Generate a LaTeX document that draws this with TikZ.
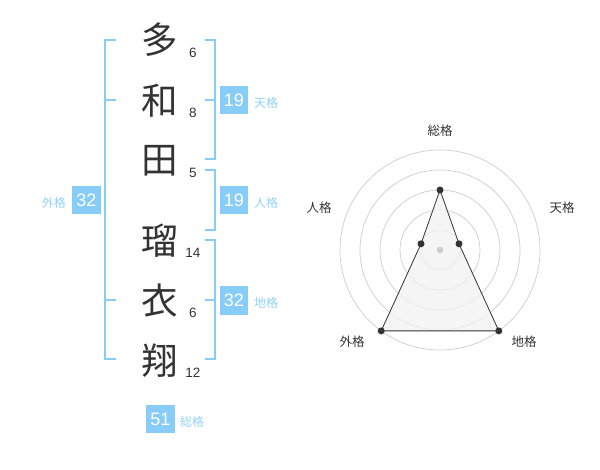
\documentclass[tikz,border=0pt]{standalone}
\usepackage{fontspec}
\usetikzlibrary{calc}
\setmainfont{Liberation Sans}
\newfontfamily\cjk{Noto Sans CJK JP}
\definecolor{brblue}{HTML}{88CDF8}
\definecolor{lblblue}{HTML}{92D2F8}
\definecolor{txt}{HTML}{333333}
\definecolor{ring}{HTML}{CCCCCC}
\tikzset{
  kanji/.style={font=\cjk\fontsize{36.5}{36.5}\selectfont, text=txt, inner sep=0pt},
  strk/.style={font=\fontsize{13.5}{13.5}\selectfont, text=txt, inner sep=0pt},
  brk/.style={draw=brblue, line width=2pt},
  numbox/.style={fill=brblue, text=white, minimum width=28.5pt, minimum height=28.5pt, inner sep=0pt, font=\fontsize{18}{18}\selectfont},
  kaku/.style={font=\cjk\fontsize{12}{12}\selectfont, text=lblblue, inner sep=0pt},
  rlabel/.style={font=\cjk\fontsize{12.5}{12.5}\selectfont, text=txt, inner sep=0pt},
  vdot/.style={circle, fill=txt, minimum size=7pt, inner sep=0pt},
}
\begin{document}
\begin{tikzpicture}[x=1pt,y=-1pt]
\useasboundingbox (0,0) rectangle (600,470);
% kanji
\node[kanji] (k1) at (160,40) {多};
\node[kanji] (k2) at (160,101) {和};
\node[kanji] (k3) at (160,161) {田};
\node[kanji] (k4) at (160,241) {瑠};
\node[kanji] (k5) at (160,301) {衣};
\node[kanji] (k6) at (160,361) {翔};
% stroke counts
\node[strk] (s1) at (193,53) {6};
\node[strk] (s2) at (193,113) {8};
\node[strk] (s3) at (193,173) {5};
\node[strk] (s4) at (193,253) {14};
\node[strk] (s5) at (193,313) {6};
\node[strk] (s6) at (193,373) {12};
% brackets
\draw[brk] (116,40) -- (105,40) -- (105,359) -- (116,359);
\draw[brk] (105,100) -- (116,100);
\draw[brk] (105,300) -- (116,300);
\draw[brk] (205,40) -- (215,40) -- (215,159) -- (205,159);
\draw[brk] (205,100) -- (215,100);
\draw[brk] (205,170) -- (215,170) -- (215,230) -- (205,230);
\draw[brk] (205,240) -- (215,240) -- (215,359) -- (205,359);
\draw[brk] (205,300) -- (215,300);
% boxes
\node[numbox] (b1) at (234,100) {19};
\node[kaku, anchor=west] (l1) at (254,103) {天格};
\node[numbox] (b2) at (234,200) {19};
\node[kaku, anchor=west] (l2) at (254,203) {人格};
\node[numbox] (b3) at (234,300.5) {32};
\node[kaku, anchor=west] (l3) at (254,303) {地格};
\node[numbox] (b4) at (86.5,200) {32};
\node[kaku, anchor=east] (l4) at (66,203) {外格};
\node[numbox] (b5) at (160.5,419) {51};
\node[kaku, anchor=west] (l5) at (180,422) {総格};
% radar
\coordinate (c) at (440,250);
\foreach \r in {20,40,60,80,100} \draw[ring, line width=0.7pt] (c) circle (\r);
\coordinate (p1) at ($(c)+(0,-60)$);
\coordinate (p2) at ($(c)+(19.0,-6.2)$);
\coordinate (p3) at ($(c)+(58.8,80.9)$);
\coordinate (p4) at ($(c)+(-58.8,80.9)$);
\coordinate (p5) at ($(c)+(-19.0,-6.2)$);
\filldraw[fill=black!5, fill opacity=0.8, draw=txt, line width=0.8pt] (p1) -- (p2) -- (p3) -- (p4) -- (p5) -- cycle;
\fill[ring] (c) circle (3.3);
\foreach \p in {p1,p2,p3,p4,p5} \node[vdot] at (\p) {};
\node[rlabel] (r1) at (440,131) {総格};
\node[rlabel] (r2) at (562,208) {天格};
\node[rlabel] (r3) at (524,342) {地格};
\node[rlabel] (r4) at (352,342) {外格};
\node[rlabel] (r5) at (319,208) {人格};
\end{tikzpicture}
\end{document}
